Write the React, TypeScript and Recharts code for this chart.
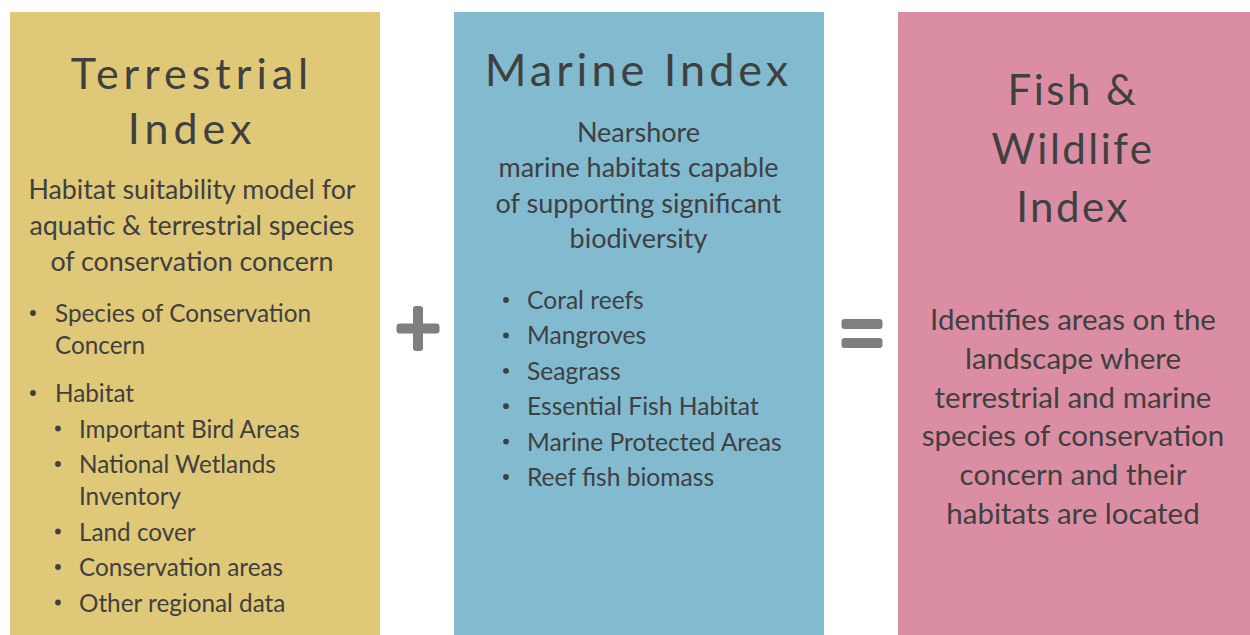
import { BarChart, Bar, XAxis, YAxis, Cell } from "recharts";

// three panels of the index diagram, drawn as full-height bars
const panelNames = ["Terrestrial Index", "Marine Index", "Fish & Wildlife Index"];
const panelHeights = [1, 1, 1];
const panelColors = ["#dfc878", "#82bbd0", "#db8ea3"];

const titleLines = [
  ["Terrestrial", "Index"],
  ["Marine Index"],
  ["Fish &", "Wildlife", "Index"],
];

const descriptionLines = [
  ["Habitat suitability model for", "aquatic & terrestrial species", "of conservation concern"],
  ["Nearshore", "marine habitats capable", "of supporting significant", "biodiversity"],
  [
    "Identifies areas on the",
    "landscape where",
    "terrestrial and marine",
    "species of conservation",
    "concern and their",
    "habitats are located",
  ],
];

const terrestrialBullets = [
  { level: 0, lines: ["Species of Conservation", "Concern"] },
  { level: 0, lines: ["Habitat"] },
  { level: 1, lines: ["Important Bird Areas"] },
  { level: 1, lines: ["National Wetlands", "Inventory"] },
  { level: 1, lines: ["Land cover"] },
  { level: 1, lines: ["Conservation areas"] },
  { level: 1, lines: ["Other regional data"] },
];

const marineBullets = [
  { level: 0, lines: ["Coral reefs"] },
  { level: 0, lines: ["Mangroves"] },
  { level: 0, lines: ["Seagrass"] },
  { level: 0, lines: ["Essential Fish Habitat"] },
  { level: 0, lines: ["Marine Protected Areas"] },
  { level: 0, lines: ["Reef fish biomass"] },
];

const bulletLists = [terrestrialBullets, marineBullets, []];
const operators = ["+", "=", ""];

const TEXT = "#404040";
const OP = "#7f7f7f";
const FONT = "Lato, 'Open Sans', sans-serif";

// text layout inside each panel (offsets from the bar's top-left corner)
const layout = [
  {
    cx: 182, titleY: 77, titleStep: 55, titleSize: 43, titleSpacing: 5,
    descY: 187, descStep: 36, descSize: 26.8,
    listY: 310, itemStep: 35.5, wrapStep: 32, sectionGap: 12.5, listSize: 24.3,
    dotX: [23, 48], textX: [45, 69],
  },
  {
    cx: 184.5, titleY: 74, titleStep: 55, titleSize: 45, titleSpacing: 4,
    descY: 130, descStep: 35.3, descSize: 27,
    listY: 297, itemStep: 35.4, wrapStep: 32, sectionGap: 0, listSize: 24.6,
    dotX: [52, 52], textX: [73, 73],
  },
  {
    cx: 175, titleY: 93, titleStep: 58.5, titleSize: 42, titleSpacing: 2.5,
    descY: 318, descStep: 38.8, descSize: 29.5,
    listY: 0, itemStep: 0, wrapStep: 0, sectionGap: 0, listSize: 24.5,
    dotX: [0, 0], textX: [0, 0],
  },
];

const data = panelNames.map((name, i) => ({ name, value: panelHeights[i] }));

function Operator({ kind, cx, cy }: { kind: string; cx: number; cy: number }) {
  if (kind === "+") {
    return (
      <g fill={OP}>
        <rect x={cx - 21.5} y={cy - 5} width={43} height={10} rx={3} />
        <rect x={cx - 5} y={cy - 22.5} width={10} height={45} rx={3} />
      </g>
    );
  }
  if (kind === "=") {
    return (
      <g fill={OP}>
        <rect x={cx - 20.5} y={cy - 14.5} width={41} height={10} rx={3} />
        <rect x={cx - 20.5} y={cy + 4.5} width={41} height={10} rx={3} />
      </g>
    );
  }
  return null;
}

function PanelShape(props: any) {
  const { x, y, width, height, fill, payload } = props;
  const i = panelNames.indexOf(payload.name);
  const L = layout[i];
  const cx = x + L.cx;

  // bullets: running baseline
  const rows: any[] = [];
  let cursor = y + L.listY;
  bulletLists[i].forEach((item, k) => {
    if (k > 0) cursor += L.itemStep + (item.level === 0 ? L.sectionGap : 0);
    item.lines.forEach((line, j) => {
      const by = cursor + j * L.wrapStep;
      if (j === 0) {
        rows.push(
          <circle key={`d${k}`} cx={x + L.dotX[item.level]} cy={by - 9} r={2.9} fill={TEXT} />
        );
      }
      rows.push(
        <text key={`t${k}-${j}`} x={x + L.textX[item.level]} y={by} fontSize={L.listSize} fill={TEXT}>
          {line}
        </text>
      );
    });
    cursor += (item.lines.length - 1) * L.wrapStep;
  });

  return (
    <g fontFamily={FONT}>
      <rect x={x} y={y} width={width} height={height} fill={fill} />
      {titleLines[i].map((line, j) => (
        <text
          key={`h${j}`}
          x={cx}
          y={y + L.titleY + j * L.titleStep}
          textAnchor="middle"
          fontSize={L.titleSize}
          letterSpacing={L.titleSpacing}
          fill={TEXT}
        >
          {line}
        </text>
      ))}
      {descriptionLines[i].map((line, j) => (
        <text
          key={`p${j}`}
          x={cx}
          y={y + L.descY + j * L.descStep}
          textAnchor="middle"
          fontSize={L.descSize}
          fill={TEXT}
        >
          {line}
        </text>
      ))}
      {rows}
      <Operator kind={operators[i]} cx={x + width + 38} cy={y + (i === 0 ? 316.5 : 321.5)} />
    </g>
  );
}

export default function App() {
  return (
    <div
      style={{
        position: "absolute",
        left: 0,
        top: 0,
        width: 1250,
        height: 635,
        overflow: "hidden",
        background: "#fff",
      }}
    >
      <div style={{ marginLeft: -27 }}>
        <BarChart
          width={1332}
          height={635}
          data={data}
          margin={{ top: 12, right: 0, bottom: 0, left: 0 }}
          barCategoryGap={37}
        >
          <XAxis dataKey="name" hide />
          <YAxis hide domain={[0, 1]} />
          <Bar dataKey="value" isAnimationActive={false} shape={PanelShape}>
            {data.map((_, index) => (
              <Cell key={index} fill={panelColors[index]} />
            ))}
          </Bar>
        </BarChart>
      </div>
    </div>
  );
}
